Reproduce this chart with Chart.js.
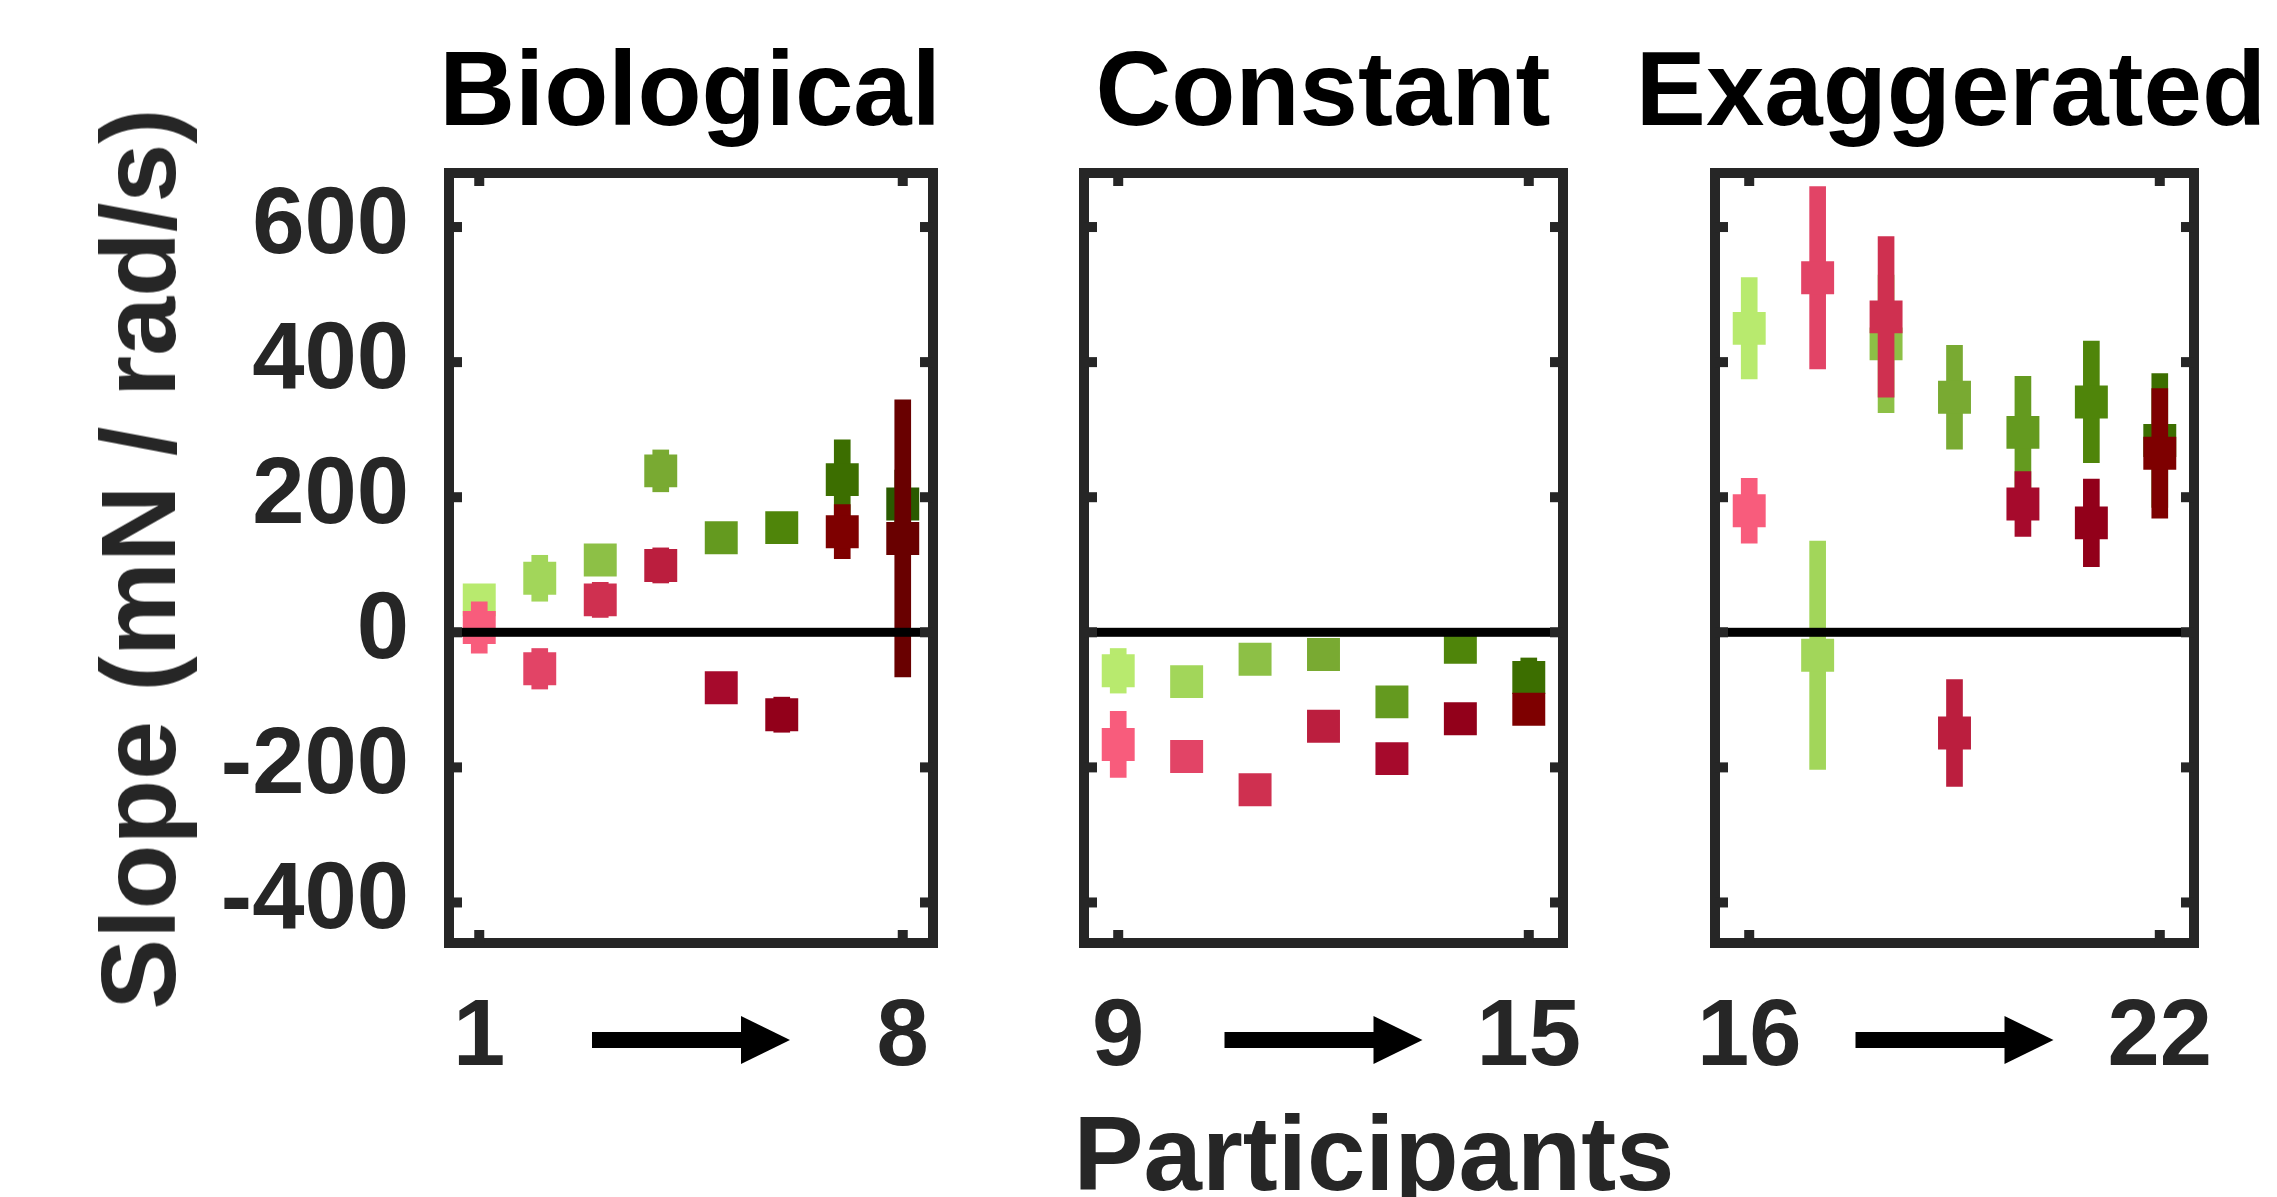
<!DOCTYPE html>
<html lang="en">
<head>
<meta charset="UTF-8">
<title>Slope per participant</title>
<style>
  body { margin: 0; background: #fff; }
  #fig { position: relative; width: 2277px; height: 1197px; overflow: hidden; background: #fff;
         font-family: "Liberation Sans", Arial, sans-serif; font-weight: bold; }
  canvas { position: absolute; top: 0; }
  .txt { position: absolute; white-space: nowrap; line-height: 1; }
  .title { top: 36px; font-size: 105px; color: #000; transform: translateX(-50%); }
</style>
</head>
<body>
<div id="fig">
  <canvas id="bio" width="970" height="1197" style="left:0px"></canvas>
  <canvas id="con" width="600" height="1197" style="left:1000px"></canvas>
  <canvas id="exa" width="600" height="1197" style="left:1640px"></canvas>

  <div class="txt title" style="left:690px">Biological</div>
  <div class="txt title" style="left:1323px">Constant</div>
  <div class="txt title" style="left:1951px">Exaggerated</div>
  <div class="txt" style="left:1374px; top:1101px; font-size:105px; color:#262626; transform:translateX(-50%)">Participants</div>
  <div class="txt" style="left:138px; top:559px; font-size:106px; color:#262626; transform:translate(-50%,-50%) rotate(-90deg)">Slope (mN / rad/s)</div>
</div>

<script src="https://cdn.jsdelivr.net/npm/chart.js"></script>
<script>
// participants per condition
const bioIds = [1, 2, 3, 4, 5, 6, 7, 8];
const conIds = [9, 10, 11, 12, 13, 14, 15];
const exaIds = [16, 17, 18, 19, 20, 21, 22];

// green series (mean slope and half error)
const bioGreen    = [48, 80, 107, 239, 140, 155, 226, 190];
const bioGreenErr = [15, 34, 18, 31, 18, 18, 59, 50];
const conGreen    = [-57, -73, -40, -33, -103, -22, -67];
const conGreenErr = [33, 20, 20, 20, 20, 20, 29];
const exaGreen    = [450, -34, 427, 348, 296, 341, 284];
const exaGreenErr = [75, 169, 102, 77, 83, 90, 99];

// red series
const bioRed    = [7, -54, 48, 99, -82, -122, 149, 139];
const bioRedErr = [38, 30, 26, 26, 15, 26, 40, 205];
const conRed    = [-166, -184, -233, -139, -187, -128, -114];
const conRedErr = [49, 20, 20, 22, 20, 20, 20];
const exaRed    = [180, 525, 467, -149, 190, 162, 265];
const exaRedErr = [48, 135, 119, 79, 48, 65, 96];

const yTicks = [-400, -200, 0, 200, 400, 600];

const greens = ['#b8ea6e', '#a2d65a', '#8dc046', '#79aa32', '#649a1f', '#4f850a', '#3c6e00', '#2a5a00'];
const reds   = ['#f85c7c', '#e24466', '#cf3050', '#bb1e3e', '#a60a2c', '#92001a', '#7e0000', '#690000'];

Chart.defaults.font.family = '"Liberation Sans", Arial, sans-serif';
const tickFont = { size: 94, weight: 'bold', lineHeight: 1.2 };

// box, inward ticks, zero line and the arrow under each panel
const framePlugin = {
    id: 'frame',
    afterDatasetsDraw(chart) {
        const { ctx, chartArea: a, scales: { x, y } } = chart;
        ctx.save();
        const y0 = y.getPixelForValue(0);
        ctx.fillStyle = '#000';
        ctx.fillRect(a.left, y0 - 4.5, a.right - a.left, 9);

        ctx.strokeStyle = '#262626';
        ctx.lineWidth = 10;
        ctx.strokeRect(a.left, a.top, a.right - a.left, a.bottom - a.top);

        ctx.fillStyle = '#262626';
        yTicks.forEach(v => {
            const py = y.getPixelForValue(v);
            ctx.fillRect(a.left, py - 5, 13, 10);
            ctx.fillRect(a.right - 13, py - 5, 13, 10);
        });
        x.ticks.forEach(t => {
            const px = x.getPixelForValue(t.value);
            ctx.fillRect(px - 5, a.top, 10, 13);
            ctx.fillRect(px - 5, a.bottom - 13, 10, 13);
        });

        const cx = (a.left + a.right) / 2, ay = a.bottom + 97;
        ctx.fillStyle = '#000';
        ctx.fillRect(cx - 99, ay - 8, 150, 16);
        ctx.beginPath();
        ctx.moveTo(cx + 50, ay - 24);
        ctx.lineTo(cx + 99, ay);
        ctx.lineTo(cx + 50, ay + 24);
        ctx.closePath();
        ctx.fill();
        ctx.restore();
    }
};

function makePanel(id, ids, green, greenErr, red, redErr, padL, padR, showY) {
    const n = ids.length;
    const pts = vals => ids.map((p, i) => ({ x: p, y: vals[i] }));
    const bars = (vals, errs) => ids.map((p, i) => ({ x: p, y: [vals[i] - errs[i], vals[i] + errs[i]] }));
    const gCols = greens.slice(0, n);
    const rCols = reds.slice(0, n);

    return new Chart(document.getElementById(id), {
        type: 'scatter',
        data: {
            datasets: [
                { type: 'scatter', data: pts(red), pointStyle: 'rect', pointRadius: 23.3,
                  pointBorderWidth: 0, pointBackgroundColor: rCols, order: 0 },
                { type: 'bar', data: bars(red, redErr), backgroundColor: rCols,
                  barThickness: 16, grouped: false, order: 1 },
                { type: 'scatter', data: pts(green), pointStyle: 'rect', pointRadius: 23.3,
                  pointBorderWidth: 0, pointBackgroundColor: gCols, order: 2 },
                { type: 'bar', data: bars(green, greenErr), backgroundColor: gCols,
                  barThickness: 16, grouped: false, order: 3 }
            ]
        },
        options: {
            responsive: false,
            animation: false,
            events: [],
            layout: { padding: { top: 173, bottom: 0, left: padL, right: padR } },
            plugins: { legend: { display: false }, tooltip: { enabled: false } },
            scales: {
                x: {
                    type: 'linear', min: ids[0] - 0.5, max: ids[n - 1] + 0.5, offset: false,
                    grid: { display: false, drawTicks: false }, border: { display: false },
                    afterBuildTicks: s => { s.ticks = [ids[0], ids[n - 1]].map(v => ({ value: v })); },
                    afterFit: s => { s.height = 254; s.paddingLeft = 0; s.paddingRight = 0; },
                    ticks: { padding: 40, color: '#262626', font: tickFont, autoSkip: false, maxRotation: 0 }
                },
                y: {
                    type: 'linear', min: -460, max: 680, display: showY,
                    grid: { display: false, drawTicks: false }, border: { display: false },
                    afterBuildTicks: s => { s.ticks = yTicks.map(v => ({ value: v })); },
                    afterFit: s => { s.width = showY ? 449 : 0; s.paddingTop = 0; s.paddingBottom = 0; },
                    ticks: { padding: 40, color: '#262626', font: tickFont, autoSkip: false }
                }
            }
        },
        plugins: [framePlugin]
    });
}

makePanel('bio', bioIds, bioGreen, bioGreenErr, bioRed, bioRedErr, 0, 37, true);
makePanel('con', conIds, conGreen, conGreenErr, conRed, conRedErr, 84, 37, false);
makePanel('exa', exaIds, exaGreen, exaGreenErr, exaRed, exaRedErr, 75, 46, false);
</script>
</body>
</html>
